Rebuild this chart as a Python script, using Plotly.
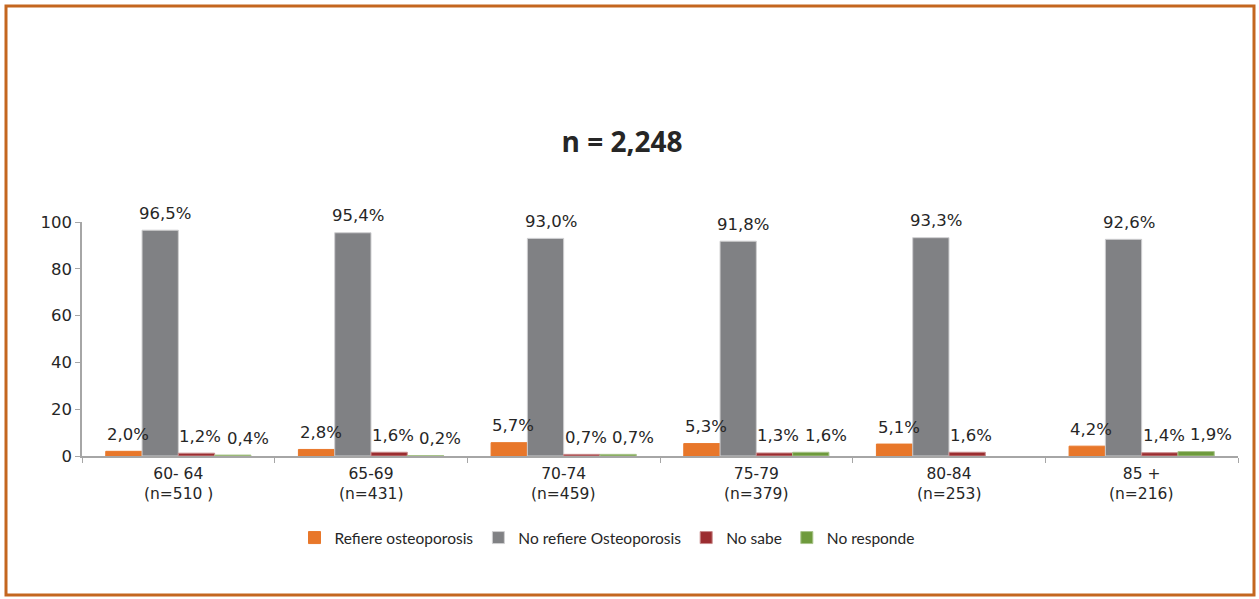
import plotly.graph_objects as go

# Age groups, their sample sizes and the share of each answer, in percent
grupos = ["60- 64", "65-69", "70-74", "75-79", "80-84", "85 +"]
muestras = ["(n=510 )", "(n=431)", "(n=459)", "(n=379)", "(n=253)", "(n=216)"]
refiere = [2.0, 2.8, 5.7, 5.3, 5.1, 4.2]
no_refiere = [96.5, 95.4, 93.0, 91.8, 93.3, 92.6]
no_sabe = [1.2, 1.6, 0.7, 1.3, 1.6, 1.4]
no_responde = [0.4, 0.2, 0.7, 1.6, None, 1.9]

series = [
    ("Refiere osteoporosis", refiere, "#e8772a", "#e8772a"),
    ("No refiere Osteoporosis", no_refiere, "#808184", "#cfcfd1"),
    ("No sabe", no_sabe, "#9b2d30", "#c98a8b"),
    ("No responde", no_responde, "#6e9a3c", "#a8c48a"),
]

W, H = 1259, 599
L, R, T, B = 82, 21, 222, 143
pw, ph = W - L - R, H - T - B
BARGAP = 0.2465
bar_w = pw / len(grupos) * (1 - BARGAP) / len(series)
# small horizontal nudges for the value labels of each series
label_dx = [4, 5, 4, 15]

fig = go.Figure()
annotations = []
for k, (name, vals, color, edge) in enumerate(series):
    fig.add_trace(go.Bar(
        name=name, x=grupos, y=vals,
        marker=dict(color=color, line=dict(color=edge, width=1)),
        hoverinfo="skip",
    ))
    for g, v in zip(grupos, vals):
        if v is None:
            continue
        annotations.append(dict(
            x=g, y=v, xref="x", yref="y",
            text=f"{v:.1f}".replace(".", ",") + "%",
            showarrow=False, xanchor="center", yanchor="middle",
            xshift=(k - 1.5) * bar_w + label_dx[k], yshift=17,
            font=dict(family="DejaVu Sans", size=16.5, color="#262626"),
        ))

# second line of each category label (sample size), set under the tick label
for g, n in zip(grupos, muestras):
    annotations.append(dict(
        x=g, y=0, xref="x", yref="y", text=n, showarrow=False,
        xanchor="center", yanchor="middle", yshift=-38,
        font=dict(family="DejaVu Sans", size=15.5, color="#262626"),
    ))

# page frame drawn around the whole figure
def px_x(x):
    return (x - L) / pw

def px_y(y):
    return (H - B - y) / ph

fig.add_shape(type="rect", xref="paper", yref="paper",
              x0=px_x(6), x1=px_x(1254), y0=px_y(595), y1=px_y(6),
              line=dict(color="#c4661f", width=3), fillcolor="rgba(0,0,0,0)")

fig.update_layout(
    width=W, height=H,
    margin=dict(l=L, r=R, t=T, b=B),
    paper_bgcolor="white", plot_bgcolor="white",
    barmode="group", bargap=BARGAP, bargroupgap=0,
    annotations=annotations,
    title=dict(text="<b>n = 2,248</b>", x=622 / W, xanchor="center",
               y=1 - 142 / H, yanchor="middle",
               font=dict(family="Open Sans", size=28, color="#262626")),
    showlegend=True,
    legend=dict(orientation="h", x=px_x(607), xanchor="center",
                y=px_y(538), yanchor="middle", itemwidth=30,
                font=dict(family="Lato", size=15.5, color="#262626"),
                traceorder="normal"),
    xaxis=dict(type="category", showline=True, linecolor="#a6a6a6", linewidth=2,
               ticks="outside", tickson="boundaries", ticklen=5, tickcolor="#a6a6a6",
               ticklabelstandoff=2, showgrid=False,
               tickfont=dict(family="DejaVu Sans", size=15.5, color="#262626")),
    yaxis=dict(range=[0, 100], tickvals=[0, 20, 40, 60, 80, 100], showline=True,
               linecolor="#a6a6a6", linewidth=1.5, ticks="outside", ticklen=5,
               tickcolor="#a6a6a6", showgrid=False, zeroline=False,
               tickfont=dict(family="DejaVu Sans", size=16.5, color="#262626")),
)

fig.write_html("out.html")
